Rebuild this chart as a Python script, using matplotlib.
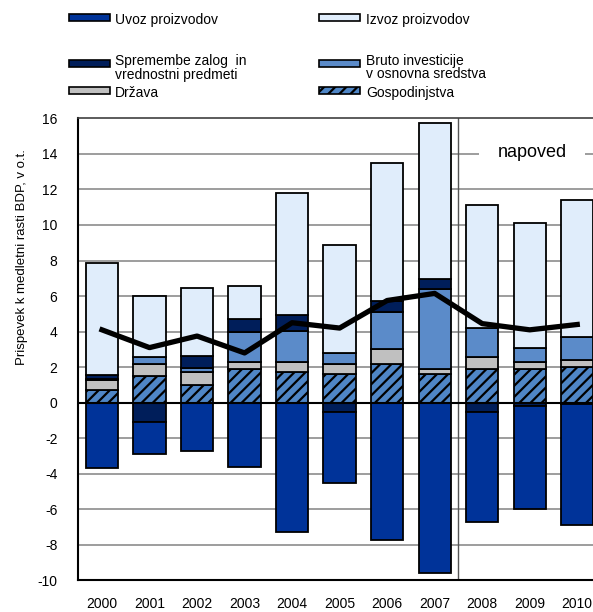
import matplotlib
matplotlib.use("Agg")
import matplotlib.pyplot as plt
from matplotlib.patches import Rectangle
import numpy as np

plt.rcParams['font.family'] = ['Liberation Sans', 'DejaVu Sans']
plt.rcParams['hatch.linewidth'] = 1.6
plt.rcParams['axes.unicode_minus'] = False

leta = ['2000', '2001', '2002', '2003', '2004', '2005', '2006', '2007', '2008', '2009', '2010']
gospodinjstva = [0.7, 1.5, 1.0, 1.9, 1.7, 1.6, 2.2, 1.6, 1.9, 1.9, 2.0]
drzava = [0.6, 0.7, 0.7, 0.4, 0.6, 0.6, 0.8, 0.3, 0.7, 0.4, 0.4]
bruto_inv = [0.05, 0.4, 0.25, 1.7, 1.75, 0.6, 2.1, 4.5, 1.6, 0.8, 1.3]
zaloge = [0.2, -1.1, 0.7, 0.7, 0.9, -0.5, 0.6, 0.55, -0.5, -0.2, -0.1]
izvoz = [6.3, 3.4, 3.8, 1.85, 6.85, 6.1, 7.8, 8.8, 6.9, 7.0, 7.7]
uvoz = [-3.7, -1.8, -2.7, -3.6, -7.3, -4.0, -7.7, -9.6, -6.2, -5.8, -6.8]
rast_bdp = [4.1, 3.1, 3.75, 2.8, 4.5, 4.2, 5.75, 6.15, 4.45, 4.1, 4.4]

# (podatki, barva, srafura) v vrstnem redu zlaganja
serije = [
    (gospodinjstva, '#4f86c6', '///'),
    (drzava, '#c0c0c0', None),
    (bruto_inv, '#5b8bc9', None),
    (zaloge, '#001e5a', None),
    (izvoz, '#e0edfb', None),
    (uvoz, '#003399', None),
]

fig = plt.figure(figsize=(5.93, 6.12), dpi=100)
ax = fig.add_axes([0.1319, 0.0515, 0.8816, 0.7552])

x = np.arange(len(leta))
pos = np.zeros(len(leta))
neg = np.zeros(len(leta))
for vals, col, h in serije:
    v = np.array(vals, dtype=float)
    bottom = np.where(v >= 0, pos, neg)
    ax.bar(x, v, 0.68, bottom=bottom, color=col, edgecolor='black',
           linewidth=1.3, hatch=h, zorder=2)
    pos = pos + np.where(v >= 0, v, 0)
    neg = neg + np.where(v < 0, v, 0)

ax.plot(x[:len(rast_bdp)], rast_bdp, color='black', lw=3.8, zorder=4)

ax.set_xlim(-0.5, 10.5)
ax.set_ylim(-10, 16)
ax.set_yticks(np.arange(-10, 17, 2))
ax.set_xticks(x)
ax.set_xticklabels(leta)
ax.tick_params(axis='both', length=0, labelsize=10)
ax.tick_params(axis='y', pad=15)
ax.tick_params(axis='x', pad=12)

for yv in np.arange(-8, 16, 2):
    if yv != 0:
        ax.axhline(yv, color='#8c8c8c', lw=1.2, zorder=1)
ax.axhline(0, color='black', lw=1.5, zorder=3)
ax.axvline(7.5, color='#555555', lw=1.0, zorder=1)

ax.spines['right'].set_visible(False)
ax.spines['left'].set_linewidth(1.5)
ax.spines['bottom'].set_linewidth(1.5)
ax.spines['top'].set_color('#404040')
ax.spines['top'].set_linewidth(1.2)

ax.text(9.05, 14.07, 'napoved', fontsize=13, ha='center', va='center',
        zorder=5, bbox=dict(facecolor='white', edgecolor='none', pad=13))

fig.text(22 / 593, 1 - 257 / 612, 'Prispevek k medletni rasti BDP, v o.t.',
         rotation=90, ha='center', va='center', fontsize=9.5)

# legenda
W, H = 593.0, 612.0
legenda = [
    (69, 17.5, 115, 20, 'Uvoz proizvodov', '#003399', None),
    (319, 17.5, 366, 20, 'Izvoz proizvodov', '#e0edfb', None),
    (69, 63, 115, 67.5, 'Spremembe zalog  in\nvrednostni predmeti', '#001e5a', None),
    (319, 63, 366, 67.5, 'Bruto investicije\nv osnovna sredstva', '#5b8bc9', None),
    (69, 90.5, 115, 93, 'Država', '#c0c0c0', None),
    (319, 90.5, 366, 93, 'Gospodinjstva', '#4f86c6', '///'),
]
for hx, hy, tx, ty, lab, col, h in legenda:
    fig.add_artist(Rectangle((hx / W, 1 - (hy + 3.5) / H), 41 / W, 7 / H,
                             transform=fig.transFigure, facecolor=col,
                             edgecolor='black', linewidth=1.2, hatch=h))
    fig.text(tx / W, 1 - ty / H, lab, fontsize=10, ha='left', va='center',
             linespacing=1.0)

fig.savefig('out.png', dpi=100)
